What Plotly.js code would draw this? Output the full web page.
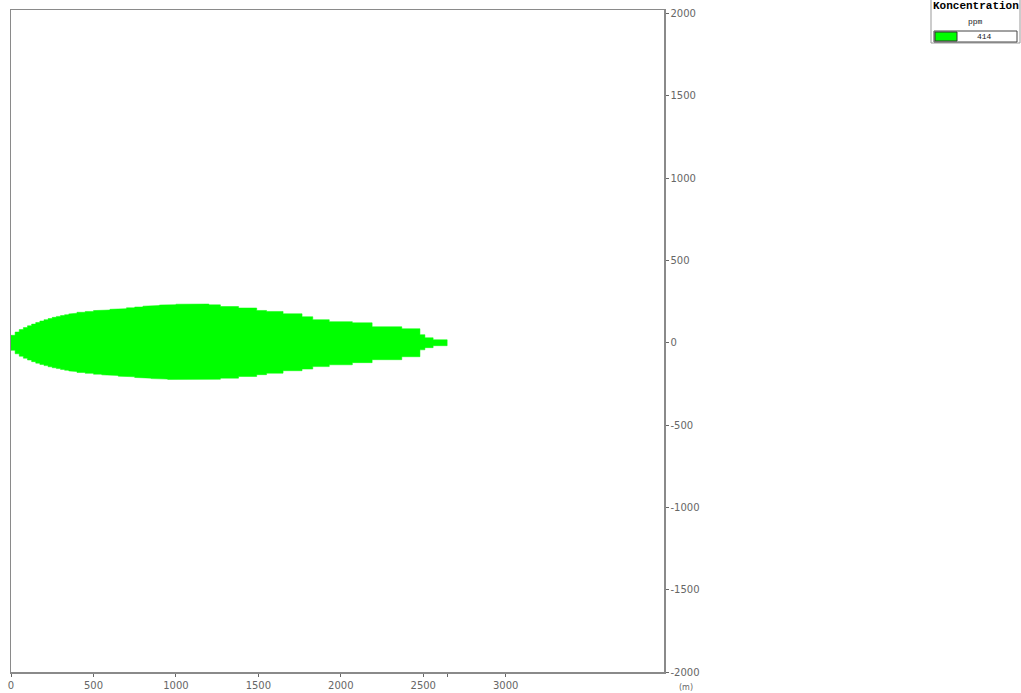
<!DOCTYPE html>
<html>
<head>
<meta charset="utf-8">
<script src="https://cdn.plot.ly/plotly-3.0.1.min.js"></script>
<style>html,body{margin:0;padding:0;background:#fff;}</style>
</head>
<body>
<div id="chart" style="width:1021px;height:693px;"></div>
<script>
// Plume footprint: step edges along the downwind distance (m)
const stepEdges = [-20, 0, 25, 50, 75, 100, 125, 150, 175, 200, 225, 250, 275, 300, 325, 350, 375, 400, 450, 500, 550, 600, 650, 700, 750, 800, 850, 900, 950, 1000, 1100, 1200, 1270, 1380, 1490, 1550, 1650, 1765, 1830, 1930, 2070, 2190, 2370, 2480, 2510, 2560, 2645];
// Crosswind half-width above the centreline for each step (m)
const upperWidth = [22, 45, 65, 80, 92, 103, 113, 123, 132, 140, 147, 154, 160, 165, 170, 175, 179, 185, 190, 195, 199, 203, 207, 212, 217, 222, 226, 229, 231, 234, 235, 230, 220, 211, 196, 190, 176, 158, 140, 128, 121, 97, 85, 49, 30, 18];
// Crosswind half-width below the centreline for each step (m)
const lowerWidth = [22, 46, 67, 82, 94, 105, 115, 124, 132, 139, 146, 152, 157, 162, 167, 171, 175, 181, 186, 191, 195, 199, 203, 207, 211, 215, 218, 221, 223, 225, 226, 222, 215, 205, 194, 185, 170, 160, 145, 134, 121, 103, 85, 43, 30, 18];

const xTickVals = [0, 500, 1000, 1500, 2000, 2500, 3000];
const yTickVals = [-2000, -1500, -1000, -500, 0, 500, 1000, 1500, 2000];
const legendTitle = 'Koncentration';
const legendUnit = 'ppm';
const legendLevel = '414';
const axisUnit = '(m)';

// Build the stepped outline polygon from the arrays
const px = [], py = [];
for (let i = 0; i < upperWidth.length; i++) {
  px.push(stepEdges[i], stepEdges[i + 1]);
  py.push(upperWidth[i], upperWidth[i]);
}
for (let i = lowerWidth.length - 1; i >= 0; i--) {
  px.push(stepEdges[i + 1], stepEdges[i]);
  py.push(-lowerWidth[i], -lowerWidth[i]);
}
px.push(px[0]); py.push(py[0]);

const plumeEnd = stepEdges[stepEdges.length - 1];

const trace = {
  type: 'scatter', mode: 'lines',
  x: px, y: py,
  fill: 'toself', fillcolor: '#00ff00',
  line: {color: '#00ff00', width: 0.5},
  hoverinfo: 'skip', showlegend: false
};

// pixel -> paper helpers for the decorative legend box
const L = 11, R = 357, T = 10, B = 21, W = 1021, H = 693;
const pw = W - L - R, ph = H - T - B;
const fx = p => (p - L) / pw;
const fy = p => (H - B - p) / ph;

const axisFont = {family: 'DejaVu Sans, sans-serif', size: 10, color: '#666'};

const layout = {
  width: W, height: H,
  margin: {l: L, r: R, t: T, b: B, pad: 0},
  paper_bgcolor: '#fff', plot_bgcolor: '#fff',
  showlegend: false,
  xaxis: {
    range: [0, 3960],
    tickvals: xTickVals.concat([plumeEnd]),
    ticktext: xTickVals.map(String).concat(['']),
    showline: true, mirror: true, linecolor: '#8a8a8a', linewidth: 1.5,
    ticks: 'outside', ticklen: 3, tickcolor: '#666', tickwidth: 1,
    showgrid: false, zeroline: false, tickfont: axisFont, fixedrange: true
  },
  yaxis: {
    range: [-2000, 2021], side: 'right',
    tickvals: yTickVals, ticktext: yTickVals.map(String),
    showline: true, mirror: true, linecolor: '#8a8a8a', linewidth: 1.5,
    ticks: 'outside', ticklen: 3, tickcolor: '#666', tickwidth: 1,
    showgrid: false, zeroline: false, tickfont: axisFont, fixedrange: true
  },
  shapes: [
    {type: 'rect', xref: 'paper', yref: 'paper', x0: fx(931), x1: fx(1020), y0: fy(-1), y1: fy(43),
     line: {color: '#999', width: 1}, fillcolor: '#fff', layer: 'above'},
    {type: 'rect', xref: 'paper', yref: 'paper', x0: fx(934), x1: fx(1017), y0: fy(31), y1: fy(42),
     line: {color: '#444', width: 1}, fillcolor: '#fff', layer: 'above'},
    {type: 'rect', xref: 'paper', yref: 'paper', x0: fx(935), x1: fx(957), y0: fy(32), y1: fy(41),
     line: {color: '#333', width: 1}, fillcolor: '#00ff00', layer: 'above'}
  ],
  annotations: [
    {xref: 'paper', yref: 'paper', x: fx(975.5), y: fy(6), text: '<b>' + legendTitle + '</b>', showarrow: false,
     xanchor: 'center', yanchor: 'middle', font: {family: 'Liberation Mono, monospace', size: 11, color: '#000'}},
    {xref: 'paper', yref: 'paper', x: fx(975.5), y: fy(21), text: legendUnit, showarrow: false,
     xanchor: 'center', yanchor: 'middle', font: {family: 'Liberation Mono, monospace', size: 8, color: '#222'}},
    {xref: 'paper', yref: 'paper', x: fx(984), y: fy(36.5), text: legendLevel, showarrow: false,
     xanchor: 'center', yanchor: 'middle', font: {family: 'Liberation Mono, monospace', size: 8, color: '#222'}},
    {xref: 'paper', yref: 'paper', x: fx(686), y: fy(687), text: axisUnit, showarrow: false,
     xanchor: 'center', yanchor: 'middle', font: {family: 'DejaVu Sans, sans-serif', size: 8, color: '#666'}}
  ]
};

Plotly.newPlot('chart', [trace], layout, {displayModeBar: false, staticPlot: true});
</script>
</body>
</html>
